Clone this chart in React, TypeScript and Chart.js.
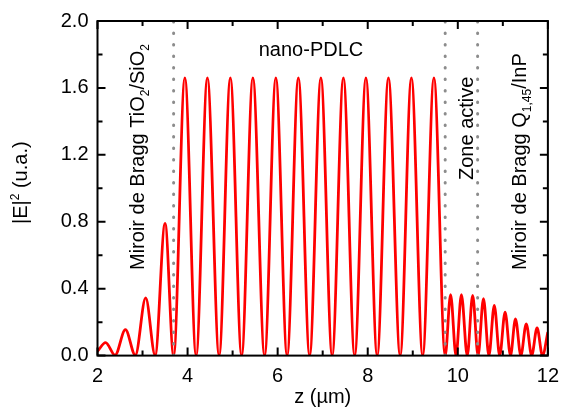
import React, { useEffect, useRef } from "react";
import { Chart, registerables } from "chart.js";

Chart.register(...registerables);

// ---- data ----
const zValues = [
  2.0, 2.18, 2.39, 2.62, 2.84, 3.07, 3.28, 3.5, 3.69,
  3.94, 4.19, 4.44, 4.7, 4.95, 5.2, 5.45, 5.71, 5.96, 6.21, 6.46, 6.71, 6.96, 7.21,
  7.46, 7.71, 7.96, 8.21, 8.46, 8.72, 8.97, 9.22, 9.47, 9.72,
  9.84, 9.96, 10.08, 10.21, 10.33, 10.45, 10.57, 10.69, 10.81, 10.93, 11.05, 11.17,
  11.28, 11.4, 11.52, 11.64, 11.76, 11.88, 12.0,
];
const eValues = [
  0.026, 0.077, 0.002, 0.155, 0.002, 0.345, 0.002, 0.79, 0.0,
  1.66, 0.0, 1.66, 0.0, 1.66, 0.0, 1.66, 0.0, 1.66, 0.0, 1.66, 0.0, 1.66, 0.0,
  1.66, 0.0, 1.66, 0.0, 1.66, 0.0, 1.66, 0.0, 1.66, 0.0,
  0.365, 0.0, 0.365, 0.0, 0.36, 0.0, 0.34, 0.0, 0.3, 0.0, 0.26, 0.0,
  0.22, 0.0, 0.19, 0.0, 0.165, 0.0, 0.14,
];
const dividerZ = [3.69, 9.72, 10.44];
const xTicks = [2, 4, 6, 8, 10, 12];
const xMinorTicks = [3, 5, 7, 9, 11];
const yTicks = [0, 0.4, 0.8, 1.2, 1.6, 2.0];
const yMinorTicks = [0.2, 0.6, 1.0, 1.4, 1.8];
const xTitle = "z (µm)";
const regionLabel = "nano-PDLC";

const FONT = '"Liberation Sans", Arial, Helvetica, sans-serif';

type Seg = { t: string; sub?: boolean; sup?: boolean };

function drawRich(
  ctx: CanvasRenderingContext2D,
  x: number,
  y: number,
  segs: Seg[],
  size: number,
  rotate: boolean
) {
  ctx.save();
  ctx.translate(x, y);
  if (rotate) ctx.rotate(-Math.PI / 2);
  ctx.fillStyle = "#000";
  ctx.textBaseline = "alphabetic";
  ctx.textAlign = "left";
  let cx = 0;
  for (const s of segs) {
    const small = s.sub || s.sup;
    const fs = small ? Math.round(size * 0.62) : size;
    ctx.font = `${fs}px ${FONT}`;
    const dy = s.sub ? size * 0.25 : s.sup ? -size * 0.42 : 0;
    ctx.fillText(s.t, cx, dy);
    cx += ctx.measureText(s.t).width;
  }
  ctx.restore();
}

const framePlugin = {
  id: "frameTicks",
  afterDatasetsDraw(chart: any) {
    const { ctx, chartArea: a, scales } = chart;
    const xs = scales.x;
    const ys = scales.y;
    ctx.save();
    ctx.strokeStyle = "#000";
    ctx.lineWidth = 2;
    ctx.beginPath();
    const tick = (x1: number, y1: number, x2: number, y2: number) => {
      ctx.moveTo(x1, y1);
      ctx.lineTo(x2, y2);
    };
    const draw = (vals: number[], len: number) => {
      for (const v of vals) {
        const px = xs.getPixelForValue(v);
        tick(px, a.bottom, px, a.bottom - len);
        tick(px, a.top, px, a.top + len);
      }
    };
    const drawY = (vals: number[], len: number) => {
      for (const v of vals) {
        const py = ys.getPixelForValue(v);
        tick(a.left, py, a.left + len, py);
        tick(a.right, py, a.right - len, py);
      }
    };
    draw(xTicks, 8);
    draw(xMinorTicks, 5);
    drawY(yTicks, 8);
    drawY(yMinorTicks, 5);
    ctx.stroke();
    ctx.strokeRect(a.left, a.top, a.right - a.left, a.bottom - a.top);
    ctx.restore();
  },
  afterDraw(chart: any) {
    const { ctx, chartArea: a } = chart;
    ctx.save();
    ctx.fillStyle = "#000";
    ctx.font = `20px ${FONT}`;
    ctx.textAlign = "center";
    ctx.textBaseline = "alphabetic";
    ctx.fillText(regionLabel, 311, 56);
    ctx.fillText(xTitle, (a.left + a.right) / 2, 403);
    ctx.restore();
    drawRich(ctx, 144, 270, [{ t: "Miroir de Bragg TiO" }, { t: "2", sub: true }, { t: "/SiO" }, { t: "2", sub: true }], 20, true);
    drawRich(ctx, 473, 180, [{ t: "Zone active" }], 20, true);
    drawRich(ctx, 526, 270, [{ t: "Miroir de Bragg Q" }, { t: "1,45", sub: true }, { t: "/InP" }], 20, true);
    drawRich(ctx, 27, 224, [{ t: "|E|" }, { t: "2", sup: true }, { t: " (u.a.)" }], 20, true);
  },
};

export default function App() {
  const ref = useRef<HTMLCanvasElement | null>(null);
  useEffect(() => {
    if (!ref.current) return;
    const curve = zValues.map((z, i) => ({ x: z, y: eValues[i] }));
    const dividers = dividerZ.map((z) => ({
      type: "line" as const,
      data: [
        { x: z, y: 0 },
        { x: z, y: 2 },
      ],
      borderColor: "#8c8c8c",
      borderWidth: 3,
      borderDash: [0.5, 11],
      borderCapStyle: "round" as const,
      pointRadius: 0,
      order: 1,
    }));
    const chart = new Chart(ref.current, {
      type: "line",
      data: {
        datasets: [
          {
            data: curve,
            borderColor: "#ff0000",
            borderWidth: 2.8,
            pointRadius: 0,
            cubicInterpolationMode: "monotone",
            fill: false,
            order: 2,
          } as any,
          ...(dividers as any[]),
        ],
      },
      options: {
        animation: false,
        responsive: false,
        devicePixelRatio: 1,
        layout: { padding: { left: 0, right: 14.5, top: 19.6, bottom: 0 } },
        plugins: { legend: { display: false }, tooltip: { enabled: false } },
        scales: {
          x: {
            type: "linear",
            min: 2,
            max: 12,
            afterBuildTicks: (s: any) => {
              s.ticks = xTicks.map((v) => ({ value: v }));
            },
            afterFit: (s: any) => {
              s.height = 62.4;
            },
            grid: { display: false, drawTicks: false },
            border: { display: false },
            ticks: {
              color: "#000",
              padding: 9,
              maxRotation: 0,
              font: { family: FONT, size: 20 },
              callback: (v: any) => String(v),
            },
          },
          y: {
            type: "linear",
            min: 0,
            max: 2,
            afterBuildTicks: (s: any) => {
              s.ticks = yTicks.map((v) => ({ value: v }));
            },
            afterFit: (s: any) => {
              s.width = 97.5;
            },
            grid: { display: false, drawTicks: false },
            border: { display: false },
            ticks: {
              color: "#000",
              padding: 9,
              font: { family: FONT, size: 20 },
              callback: (v: any) => Number(v).toFixed(1),
            },
          },
        },
      },
      plugins: [framePlugin],
    });
    return () => chart.destroy();
  }, []);
  return (
    <div style={{ position: "fixed", left: 0, top: 0, width: 568, height: 418, background: "#fff" }}>
      <canvas ref={ref} width={568} height={418} style={{ display: "block" }} />
    </div>
  );
}
